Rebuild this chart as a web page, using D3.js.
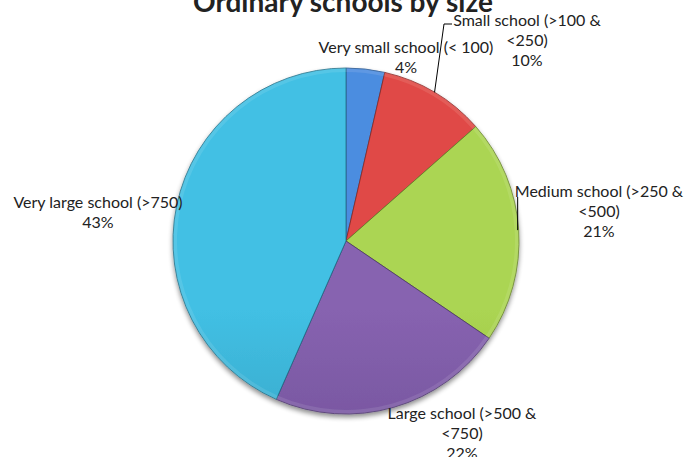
<!DOCTYPE html>
<html>
<head>
<meta charset="utf-8">
<script src="https://cdn.jsdelivr.net/npm/d3@7"></script>
<style>
  body { margin: 0; background: #fff; }
  text { font-family: "Lato", "Liberation Sans", sans-serif; fill: #222; }
</style>
</head>
<body>
<div id="chart"></div>
<script>
// data
var categories = ["Very small school (< 100)", "Small school (>100 & <250)", "Medium school (>250 & <500)", "Large school (>500 & <750)", "Very large school (>750)"];
var shares = [3.6, 9.9, 21.0, 22.1, 43.4];
var labelLines = [
    ["Very small school (< 100)"],
    ["Small school (>100 &", "<250)"],
    ["Medium school (>250 &", "<500)"],
    ["Large school (>500 &", "<750)"],
    ["Very large school (>750)"]
];
var topColors = ["#4c8de0", "#e04a46", "#abd552", "#8763b0", "#42c0e4"];
var bottomColors = ["#2f65a8", "#a8302c", "#7a9a30", "#5c3f84", "#2786a4"];

var width = 693, height = 457;
var cx = 346, cy = 241, r = 173;

var svg = d3.select('#chart').append('svg').attr('width', width).attr('height', height);
var defs = svg.append('defs');

// soft shadow under the pie
var f = defs.append('filter').attr('id', 'shadow').attr('x', '-10%').attr('y', '-10%').attr('width', '120%').attr('height', '125%');
f.append('feGaussianBlur').attr('in', 'SourceAlpha').attr('stdDeviation', 2.5);
f.append('feOffset').attr('dx', 0).attr('dy', 3).attr('result', 'off');
f.append('feComponentTransfer').append('feFuncA').attr('type', 'linear').attr('slope', 0.45);
var fm = f.append('feMerge');
fm.append('feMergeNode');
fm.append('feMergeNode').attr('in', 'SourceGraphic');

topColors.forEach(function(c, i){
    var g = defs.append('linearGradient').attr('id', 'grad' + i)
        .attr('gradientUnits', 'userSpaceOnUse')
        .attr('x1', 0).attr('y1', cy - r).attr('x2', 0).attr('y2', cy + r);
    g.append('stop').attr('offset', '0%').attr('stop-color', c);
    g.append('stop').attr('offset', '100%').attr('stop-color', bottomColors[i]);
});

// title (cut off at the top as in the original)
svg.append('text').attr('x', 343).attr('y', 12)
    .attr('text-anchor', 'middle')
    .style('font-weight', 'bold').style('font-size', '28px')
    .text('Ordinary schools by size');

var pie = d3.pie().sort(null).value(function(d){ return d; });
var arcs = pie(shares);
var arc = d3.arc().innerRadius(0).outerRadius(r);
var rim = d3.arc().innerRadius(r - 4).outerRadius(r);

var g = svg.append('g').attr('transform', 'translate(' + cx + ',' + cy + ')');
var pieG = g.append('g').attr('filter', 'url(#shadow)');
pieG.selectAll('path.slice').data(arcs).enter().append('path').attr('class', 'slice')
    .attr('d', arc)
    .attr('fill', function(d, i){ return 'url(#grad' + i + ')'; })
    .attr('stroke', function(d, i){ return d3.color(bottomColors[i]).darker(0.6); })
    .attr('stroke-width', 0.8);
// bevel highlight on the outer edge
pieG.selectAll('path.rim').data(arcs).enter().append('path').attr('class', 'rim')
    .attr('d', rim)
    .attr('fill', '#fff').attr('opacity', 0.1);

// label anchors: centre x and first baseline
var labelPos = [[406, 53], [527, 26], [599, 197], [462, 419], [98, 208]];
var lineH = 20;

labelLines.forEach(function(lines, i){
    var t = svg.append('text').attr('text-anchor', 'middle').style('font-size', '16px');
    var all = lines.concat([Math.round(shares[i]) + '%']);
    all.forEach(function(s, k){
        t.append('tspan').attr('x', labelPos[i][0]).attr('y', labelPos[i][1] + k * lineH).text(s);
    });
});

// leader lines from slice edge to label
function edgePoint(d){
    var a = (d.startAngle + d.endAngle) / 2;
    return [cx + r * Math.sin(a), cy - r * Math.cos(a)];
}
var p1 = edgePoint(arcs[1]);
svg.append('path').attr('fill', 'none').attr('stroke', '#000').attr('stroke-width', 1)
    .attr('d', d3.line()([p1, [444, 24], [452, 24]]));
var p2 = edgePoint(arcs[2]);
svg.append('path').attr('fill', 'none').attr('stroke', '#000').attr('stroke-width', 1)
    .attr('d', d3.line()([[p2[0] - 1, p2[1]], [p2[0] - 1, 197]]));
</script>
</body>
</html>
